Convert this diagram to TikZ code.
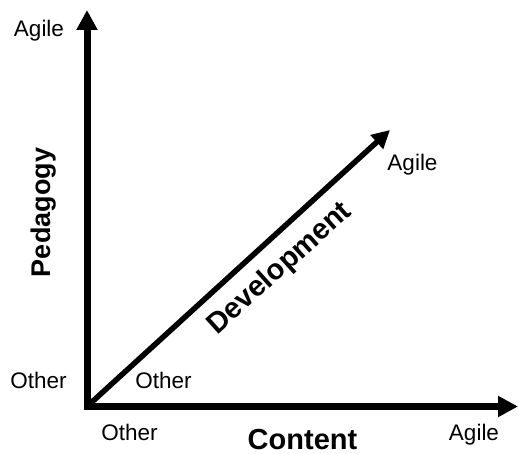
\documentclass[tikz,border=0pt]{standalone}
\usepackage{fontspec}
\setmainfont{Liberation Sans}
\usepackage{tikz}
\usetikzlibrary{arrows.meta}

\begin{document}
\begin{tikzpicture}[
			x=1pt, y=1pt,
			axis/.style={line width=7pt, -{Triangle[width=20pt,length=20pt]}},
			diag/.style={line width=5.5pt, -{Triangle[width=18pt,length=18pt]}},
			lab/.style={font=\fontsize{22.5}{24}\selectfont, anchor=base, inner sep=0pt},
			title/.style={font=\fontsize{29}{32}\selectfont\bfseries, anchor=base, inner sep=0pt}
			]
			\useasboundingbox (0,0) rectangle (519,453);
			
			\coordinate (origin) at (87,46.5);
			\coordinate (ptop)   at (87,443);
			\coordinate (cright) at (518,46.5);
			\coordinate (dtip)   at (390,323);
			
			% the three axes
			\draw[axis] ([yshift=-3.5pt]origin) -- (ptop);
			\draw[axis] ([xshift=-3.5pt]origin) -- (cright);
			\draw[diag] (origin) -- (dtip);
			
			% end labels
			\node[lab] (pagile)  at (39,416)   {Agile};
			\node[lab] (pother)  at (38.5,65)  {Other};
			\node[lab] (dagile)  at (412.5,282) {Agile};
			\node[lab] (dother)  at (163.5,65) {Other};
			\node[lab] (cother)  at (129.5,13) {Other};
			\node[lab] (cagile)  at (474,13)   {Agile};
			
			% axis names
			\node[title] (content) at (302.5,3.5) {Content};
			\node[title, font=\fontsize{27}{30}\selectfont\bfseries, rotate=90] (pedagogy) at (50,240.5) {Pedagogy};
			\node[title, rotate=42, anchor=center] (develop) at (280,184) {Development};
		\end{tikzpicture}
\end{document}
